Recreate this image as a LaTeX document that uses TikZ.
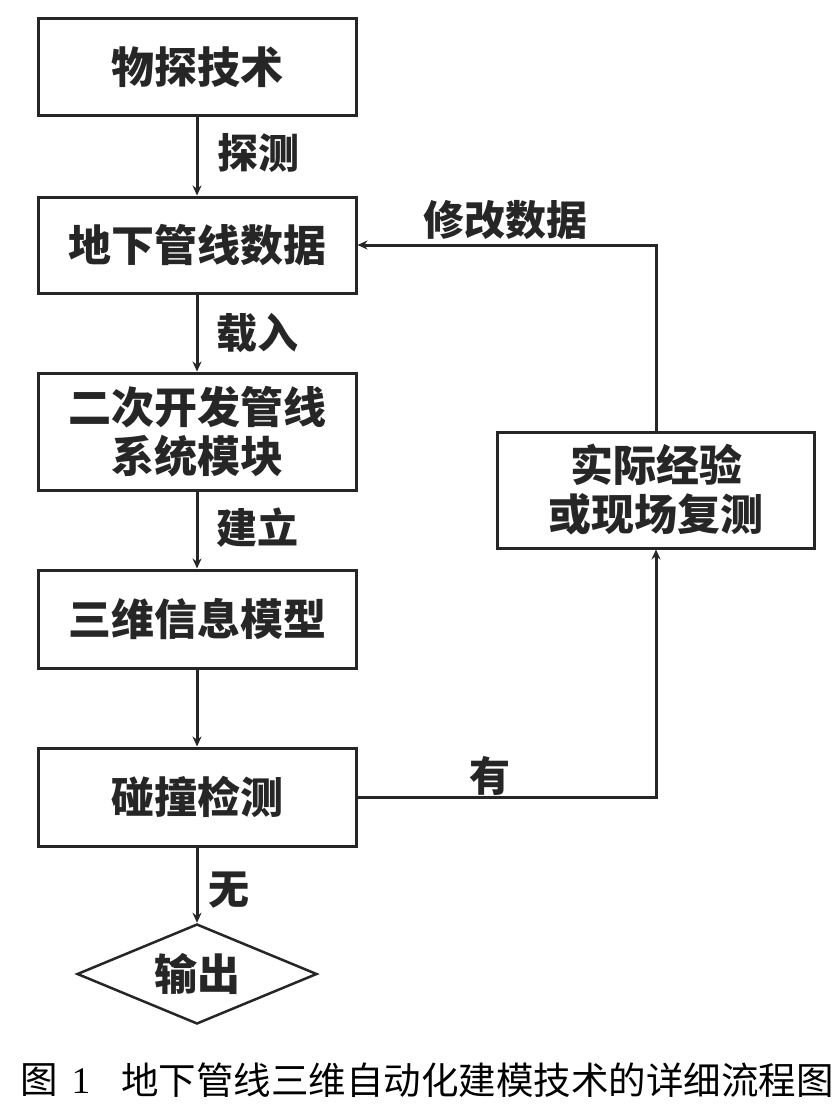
\documentclass[tikz,border=0pt]{standalone}
\usepackage{fontspec}
\newfontfamily\cjk{Noto Sans CJK SC}
\newfontfamily\capnum{Liberation Serif}
\usetikzlibrary{shapes.geometric,arrows.meta}
\begin{document}
\begin{tikzpicture}[x=1pt,y=-1pt,
  box/.style={draw=black!85, line width=3pt, minimum width=318pt, inner sep=0pt,
    font=\cjk\bfseries\fontsize{43}{49}\selectfont, align=center, text=black!85},
  lbl/.style={font=\cjk\bfseries\fontsize{41}{48}\selectfont, text=black!85, inner sep=0pt},
  conn/.style={draw=black!85, line width=3pt, -{Stealth[length=10pt,width=9pt]}},
]
\useasboundingbox (0,0) rectangle (840,1105);

\node[box, minimum height=97pt] (b1) at (197,67) {物探技术};
\node[box, minimum height=96pt] (b2) at (197,245) {地下管线数据};
\node[box, minimum height=117pt] (b3) at (197,431.5) {二次开发管线\\系统模块};
\node[box, minimum height=98pt] (b4) at (197,619) {三维信息模型};
\node[box, minimum height=98pt] (b5) at (197,797) {碰撞检测};
\node[box, minimum width=317pt, minimum height=116pt] (b7) at (656,490) {实际经验\\或现场复测};
\node[draw=black!85, line width=2.5pt, shape=diamond, aspect=2.4, minimum width=240pt, minimum height=100pt,
  inner sep=0pt, font=\cjk\bfseries\fontsize{43}{49}\selectfont, text=black!85] (out) at (197,974) {输出};

\draw[conn] (b1) -- (b2);
\draw[conn] (b2) -- (b3);
\draw[conn] (b3) -- (b4);
\draw[conn] (b4) -- (b5);
\draw[conn] (b5) -- (out);
\draw[conn] (b5.east) -| (b7.south);
\draw[conn] (b7.north) |- (b2.east);

\node[lbl] (l1) at (258,153) {探测};
\node[lbl] (l2) at (257,333) {载入};
\node[lbl] (l3) at (257,528) {建立};
\node[lbl] (l4) at (229,890) {无};
\node[lbl] (l5) at (490,776) {有};
\node[lbl] (l6) at (505,220) {修改数据};

\node[anchor=west, inner sep=0pt, font=\cjk\fontsize{37.5}{40}\selectfont] (c1) at (20,1080) {图\hspace{14pt}{\capnum 1}};
\node[anchor=west, inner sep=0pt, font=\cjk\fontsize{37.5}{40}\selectfont] (c2) at (121,1080) {地下管线三维自动化建模技术的详细流程图};
\end{tikzpicture}
\end{document}
